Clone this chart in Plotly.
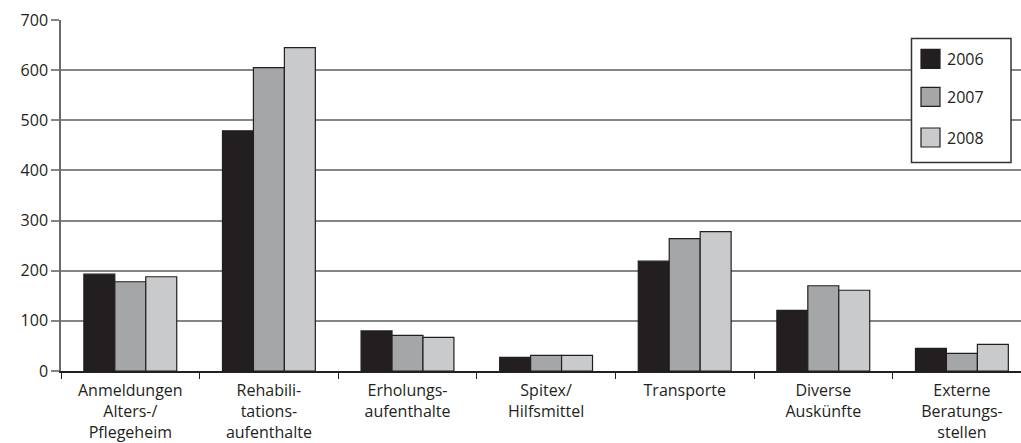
import plotly.graph_objects as go

# Categories (x axis) and yearly counts per series
categories = [
    "Anmeldungen<br>Alters-/<br>Pflegeheim",
    "Rehabili-<br>tations-<br>aufenthalte",
    "Erholungs-<br>aufenthalte",
    "Spitex/<br>Hilfsmittel",
    "Transporte",
    "Diverse<br>Auskünfte",
    "Externe<br>Beratungs-<br>stellen",
]
years = ["2006", "2007", "2008"]
values_2006 = [193, 479, 80, 27, 219, 121, 45]
values_2007 = [178, 605, 71, 31, 264, 170, 35]
values_2008 = [188, 645, 67, 31, 278, 161, 53]
y_ticks = [0, 100, 200, 300, 400, 500, 600, 700]

series = [values_2006, values_2007, values_2008]
colors = ["#231f20", "#a5a6a8", "#c9cacc"]
edge = "#231f20"

W, H = 1021, 443
ML, MR, MT, MB = 61, 0, 20, 72
plot_w = W - ML - MR
plot_h = H - MT - MB
cat_px = 138.6  # width of one category slot in pixels

fig = go.Figure()
for name, vals, col in zip(years, series, colors):
    fig.add_trace(go.Bar(
        x=categories, y=vals, name=name,
        marker=dict(color=col, line=dict(color=edge, width=1.2)),
        showlegend=False,
    ))

font_family = "Open Sans, Noto Sans, DejaVu Sans, sans-serif"
txt_col = "#231f20"

# Hand-built legend box in the upper right of the plot area
def px_x(px):
    return (px - ML) / plot_w

def px_y(py):
    return (MT + plot_h - py) / plot_h

fig.add_shape(type="rect", xref="paper", yref="paper",
              x0=px_x(911.5), x1=px_x(1011), y0=px_y(162.5), y1=px_y(38.5),
              line=dict(color="#333333", width=1.5), fillcolor="white", layer="above")
centers = [58.8, 96.8, 137.5]
for name, col, cy in zip(years, colors, centers):
    fig.add_shape(type="rect", xref="paper", yref="paper",
                  x0=px_x(921), x1=px_x(940), y0=px_y(cy + 9.5), y1=px_y(cy - 9.5),
                  line=dict(color=edge, width=1.2), fillcolor=col, layer="above")
    fig.add_annotation(xref="paper", yref="paper", x=px_x(945), y=px_y(cy),
                       text=name, showarrow=False, xanchor="left", yanchor="middle",
                       font=dict(family=font_family, size=16, color=txt_col))

fig.update_layout(
    width=W, height=H,
    margin=dict(l=ML, r=MR, t=MT, b=MB, pad=0),
    paper_bgcolor="white", plot_bgcolor="white",
    barmode="group", bargap=0.33, bargroupgap=0,
    font=dict(family=font_family, size=16, color=txt_col),
)
fig.update_xaxes(
    type="category",
    range=[-0.5, -0.5 + plot_w / cat_px],
    showgrid=False,
    showline=True, linecolor="#231f20", linewidth=1.5,
    ticks="outside", tickson="boundaries", ticklen=6, tickcolor="#231f20", tickwidth=1,
    tickfont=dict(family=font_family, size=16, color=txt_col),
    ticklabelstandoff=4,
    fixedrange=True,
)
fig.update_yaxes(
    range=[0, 700],
    tickvals=y_ticks,
    showgrid=True, gridcolor="#858585", gridwidth=1.5,
    showline=True, linecolor="#6a6a6a", linewidth=1.5,
    ticks="outside", ticklen=8, tickcolor="#858585", tickwidth=1.5,
    tickfont=dict(family=font_family, size=16, color=txt_col),
    zeroline=False,
    fixedrange=True,
)

fig.write_html("out.html")
